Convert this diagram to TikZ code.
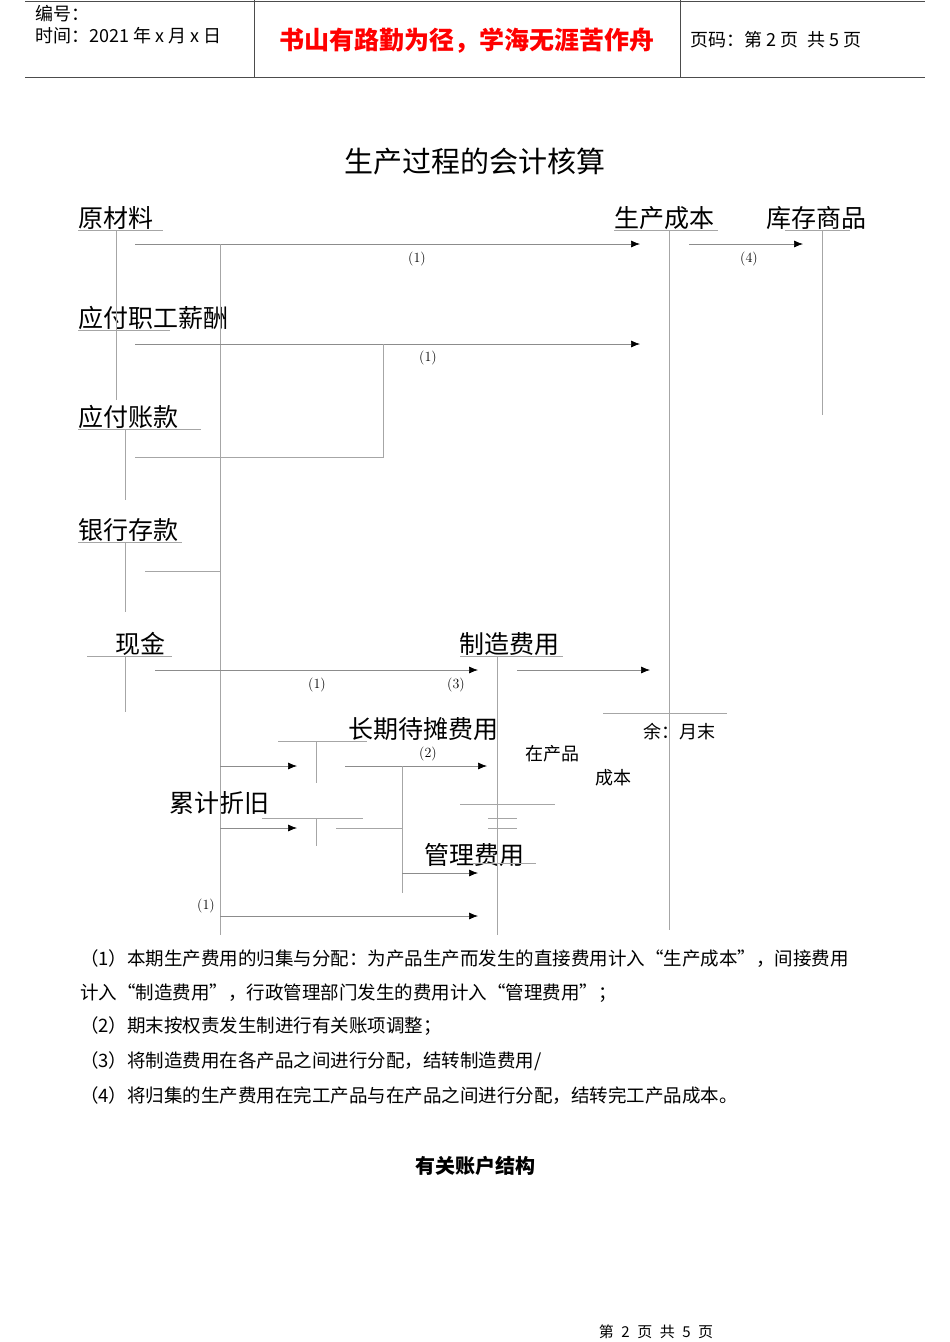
\documentclass[tikz,border=0pt]{standalone}
\usepackage{fontspec}
\newfontfamily\cjk{Noto Sans CJK SC}
\usetikzlibrary{arrows.meta}
\begin{document}
\begin{tikzpicture}[x=1pt,y=-1pt,
  ln/.style={draw=black!35,line width=0.7pt},
  ar/.style={draw=black!45,line width=0.7pt,-{Latex[black,length=9pt,width=7pt]}},
  hd/.style={draw=black!70,line width=0.8pt},
  acc/.style={font=\cjk\fontsize{25}{25}\selectfont,anchor=west,inner sep=0pt},
  sm/.style={font=\cjk\fontsize{18}{18}\selectfont,inner sep=0pt},
  num/.style={font=\fontsize{14}{14}\selectfont,inner sep=0pt},
  note/.style={font=\cjk\fontsize{18.5}{18.5}\selectfont,anchor=west,inner sep=0pt}]
\useasboundingbox[fill=white] (0,0) rectangle (950,1342);
% header
\draw[hd] (25,1) -- (925,1);
\draw[hd] (25,77) -- (925,77);
\draw[hd] (254,0) -- (254,77);
\draw[hd] (680,0) -- (680,77);
\node[sm,anchor=west] (h1) at (35,14) {编号：};
\node[sm,anchor=west] (h2) at (35,36) {时间：2021 年 x 月 x 日};
\node[font=\cjk\bfseries\fontsize{25}{25}\selectfont,text=red,inner sep=0pt] (motto) at (467,41) {书山有路勤为径，学海无涯苦作舟};
\node[sm,anchor=west] (h3) at (690,40) {页码：第 2 页\enspace 共 5 页};
% title
\node[font=\cjk\fontsize{29}{29}\selectfont,inner sep=0pt] (title) at (475,162) {生产过程的会计核算};
% accounts
\node[acc] (ycl) at (78,218) {原材料};
\node[acc] (sccb) at (614,218) {生产成本};
\node[acc] (kcsp) at (766,218) {库存商品};
\node[acc] (yfzg) at (78,318) {应付职工薪酬};
\node[acc] (yfzk) at (78,417) {应付账款};
\node[acc] (yhck) at (78,530) {银行存款};
\node[acc] (xj) at (115,644) {现金};
\node[acc] (zzfy) at (459,644) {制造费用};
\node[acc] (cqdt) at (348,729) {长期待摊费用};
\node[acc] (ljzj) at (169,803) {累计折旧};
\node[acc] (glfy) at (424,855) {管理费用};
% T-account lines
\draw[ln] (78,230) -- (163,230); \draw[ln] (116,230) -- (116,400);
\draw[ln] (614,230) -- (718,230); \draw[ln] (669,230) -- (669,930);
\draw[ln] (785,230) -- (850,230); \draw[ln] (822,230) -- (822,415);
\draw[ln] (78,330) -- (170,330);
\draw[ln] (78,429) -- (201,429); \draw[ln] (125,429) -- (125,500);
\draw[ln] (78,542) -- (182,542); \draw[ln] (125,542) -- (125,612);
\draw[ln] (87,656) -- (172,656); \draw[ln] (125,656) -- (125,712);
\draw[ln] (460,656) -- (563,656); \draw[ln] (497,656) -- (497,935);
\draw[ln] (278,741) -- (367,741); \draw[ln] (316,741) -- (316,783);
\draw[ln] (262,818) -- (363,818); \draw[ln] (316,818) -- (316,846);
\draw[ln] (470,863) -- (536,863);
\draw[ln] (603,713) -- (727,713);
\draw[ln] (460,804) -- (555,804);
\draw[ln] (488,818) -- (517,818); \draw[ln] (488,828) -- (517,828);
% flows
\coordinate (a1s) at (135,244); \coordinate (a1e) at (640,244);
\draw[ar] (a1s) -- (a1e);
\draw[ln] (220,244) -- (220,935);
\node[num] (l1) at (417,259) {(1)};
\draw[ar] (689,244) -- (803,244);
\node[num] (l4) at (749,259) {(4)};
\draw[ar] (135,344) -- (640,344);
\node[num] (l1b) at (428,358) {(1)};
\draw[ln] (383,344) -- (383,457) -- (135,457);
\draw[ln] (145,571) -- (220,571);
\draw[ar] (155,670) -- (478,670);
\node[num] (l1c) at (317,685) {(1)};
\node[num] (l3) at (456,685) {(3)};
\draw[ar] (517,670) -- (650,670);
\node[sm] (yue) at (679,732) {余：月末};
\draw[ar] (220,766) -- (297,766);
\draw[ar] (345,766) -- (487,766);
\node[num] (l2) at (428,754) {(2)};
\draw[ln] (402,766) -- (402,893);
\node[sm] (zcp) at (552,754) {在产品};
\node[sm] (cb) at (613,778) {成本};
\draw[ar] (220,828) -- (297,828);
\draw[ln] (336,828) -- (402,828);
\draw[ar] (402,873) -- (478,873);
\node[num] (l1d) at (206,906) {(1)};
\draw[ar] (220,916) -- (478,916);
% notes
\node[note] (n1) at (80,959) {（1）本期生产费用的归集与分配：为产品生产而发生的直接费用计入“生产成本”，间接费用};
\node[note] (n1b) at (80,993) {计入“制造费用”，行政管理部门发生的费用计入“管理费用”；};
\node[note] (n2) at (80,1026) {（2）期末按权责发生制进行有关账项调整；};
\node[note] (n3) at (80,1061) {（3）将制造费用在各产品之间进行分配，结转制造费用/};
\node[note] (n4) at (80,1096) {（4）将归集的生产费用在完工产品与在产品之间进行分配，结转完工产品成本。};
\node[font=\cjk\bfseries\fontsize{20}{20}\selectfont,inner sep=0pt] (sub) at (475,1166) {有关账户结构};
\node[font=\cjk\fontsize{15}{15}\selectfont,inner sep=0pt] (foot) at (656,1332) {第\enspace 2\enspace 页\enspace 共\enspace 5\enspace 页};
\end{tikzpicture}
\end{document}
